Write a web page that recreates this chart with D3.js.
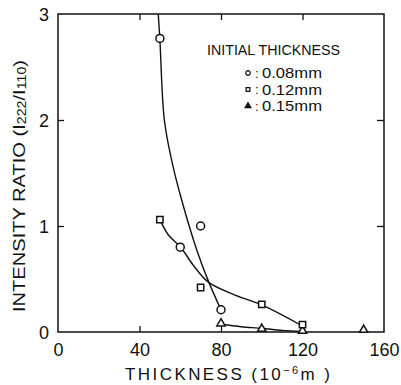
<!DOCTYPE html>
<html>
<head>
<meta charset="utf-8">
<script src="https://cdn.jsdelivr.net/npm/d3@7"></script>
<style>
  html, body { margin: 0; padding: 0; background: #fff; }
  svg { display: block; }
  text { font-family: "Liberation Sans", "DejaVu Sans", sans-serif; fill: #111; }
</style>
</head>
<body>
<svg id="chart" width="401" height="385"></svg>
<script>
// ---------- data ----------
const xTicks = [0, 40, 80, 120, 160];
const yTicks = [0, 1, 2, 3];

// measured points
const circleX = [50, 60, 70, 80];
const circleY = [2.77, 0.80, 1.00, 0.21];
const squareX = [50, 70, 100, 120];
const squareY = [1.06, 0.42, 0.26, 0.07];
const triangleX = [80, 100, 120, 150];
const triangleY = [0.08, 0.03, 0.01, 0.02];

// hand-drawn fitted curves
const curve08X = [49.2, 50, 52.2, 56, 60.7, 68.1, 73.8, 80];
const curve08Y = [3.0, 2.76, 2.0, 1.6, 1.245, 0.774, 0.48, 0.21];
const curve12X = [50, 54.2, 60.2, 66.4, 73.8, 86, 100, 119];
const curve12Y = [1.06, 0.915, 0.80, 0.63, 0.47, 0.355, 0.255, 0.066];
const curve15X = [80, 90, 100, 110, 120];
const curve15Y = [0.075, 0.05, 0.035, 0.015, 0.005];

const legendTitle = "INITIAL THICKNESS";
const legendLabels = ["0.08mm", "0.12mm", "0.15mm"];
const legendShapes = ["circle", "square", "triangle"];

// ---------- layout ----------
const svg = d3.select("#chart");
const L = 58, R = 384, T = 14, B = 332;
const x = d3.scaleLinear().domain([0, 160]).range([L, R]);
const y = d3.scaleLinear().domain([0, 3]).range([B, T]);
const ink = "#111";

// frame
svg.append("rect").attr("x", L).attr("y", T).attr("width", R - L).attr("height", B - T)
  .attr("fill", "none").attr("stroke", ink).attr("stroke-width", 1.5);

// axes with inward ticks (no domain lines)
const xAxB = d3.axisBottom(x).tickValues(xTicks).tickSize(-6).tickPadding(11).tickFormat(d3.format("d"));
const gxb = svg.append("g").attr("transform", `translate(0,${B})`).call(xAxB);
const xAxT = d3.axisTop(x).tickValues(xTicks.slice(1, -1)).tickSize(-6).tickFormat("");
const gxt = svg.append("g").attr("transform", `translate(0,${T})`).call(xAxT);
const yAxL = d3.axisLeft(y).tickValues(yTicks).tickSize(-6).tickPadding(9).tickFormat(d3.format("d"));
const gyl = svg.append("g").attr("transform", `translate(${L},0)`).call(yAxL);
const yAxR = d3.axisRight(y).tickValues(yTicks.slice(1, -1)).tickSize(-7).tickFormat("");
const gyr = svg.append("g").attr("transform", `translate(${R},0)`).call(yAxR);
[gxb, gxt, gyl, gyr].forEach(g => {
  g.select(".domain").remove();
  g.selectAll(".tick line").attr("stroke", ink).attr("stroke-width", 1.3);
  g.selectAll(".tick text").attr("fill", ink)
    .style("font-family", "'Liberation Sans', sans-serif").style("font-size", "18px");
});
// hide tick lines at the frame corners
gxb.selectAll(".tick").filter(d => d === 0 || d === 160).select("line").remove();
gyl.selectAll(".tick").filter(d => d === 0 || d === 3).select("line").remove();
gyl.selectAll(".tick text").attr("dy", "0.36em");

// curves
const line = d3.line().x(d => x(d[0])).y(d => y(d[1])).curve(d3.curveCatmullRom.alpha(0.5));
const curves = [
  d3.zip(curve08X, curve08Y),
  d3.zip(curve12X, curve12Y),
  d3.zip(curve15X, curve15Y)
];
svg.append("g").selectAll("path").data(curves).join("path")
  .attr("d", line).attr("fill", "none").attr("stroke", ink).attr("stroke-width", 1.4);

// markers
const sym = {
  circle: d3.symbol().type(d3.symbolCircle).size(50),
  square: d3.symbol().type(d3.symbolSquare).size(40),
  triangle: d3.symbol().type(d3.symbolTriangle).size(30)
};
function drawMarkers(xs, ys, shape) {
  svg.append("g").selectAll("path").data(d3.zip(xs, ys)).join("path")
    .attr("transform", d => `translate(${x(d[0])},${y(d[1])})`)
    .attr("d", sym[shape]())
    .attr("fill", "#fff").attr("stroke", ink).attr("stroke-width", 1.5);
}
drawMarkers(triangleX, triangleY, "triangle");
drawMarkers(squareX, squareY, "square");
drawMarkers(circleX, circleY, "circle");

// legend
svg.append("text").attr("x", 207).attr("y", 54.5)
  .attr("textLength", 133).attr("lengthAdjust", "spacingAndGlyphs")
  .style("font-size", "14px").text(legendTitle);
const smallSym = {
  circle: d3.symbol().type(d3.symbolCircle).size(16),
  square: d3.symbol().type(d3.symbolSquare).size(14),
  triangle: d3.symbol().type(d3.symbolTriangle).size(14)
};
legendLabels.forEach((lab, i) => {
  const cy = 73 + i * 16.5;
  svg.append("path").attr("transform", `translate(248,${cy})`)
    .attr("d", smallSym[legendShapes[i]]())
    .attr("fill", legendShapes[i] === "triangle" ? ink : "#fff")
    .attr("stroke", ink).attr("stroke-width", 1.3);
  svg.append("text").attr("x", 255).attr("y", cy + 4.5)
    .style("font-size", "13px").text(":");
  svg.append("text").attr("x", 262).attr("y", cy + 5)
    .attr("textLength", 60).attr("lengthAdjust", "spacingAndGlyphs")
    .style("font-size", "14px").text(lab);
});

// axis titles
const xl = svg.append("text").attr("x", 125).attr("y", 380)
  .attr("textLength", 205).attr("lengthAdjust", "spacing")
  .style("font-size", "17px");
xl.append("tspan").text("THICKNESS   (10");
xl.append("tspan").attr("dy", -6).style("font-size", "11px").text("−6");
xl.append("tspan").attr("dy", 6).text("m )");

const yl = svg.append("text")
  .attr("transform", "translate(25,186) rotate(-90)")
  .attr("text-anchor", "middle")
  .attr("textLength", 252).attr("lengthAdjust", "spacingAndGlyphs")
  .style("font-size", "17px");
yl.append("tspan").text("INTENSITY RATIO  (I");
yl.append("tspan").attr("dy", 1).style("font-size", "12px").text("222");
yl.append("tspan").attr("dy", -1).text("/I");
yl.append("tspan").attr("dy", 1).style("font-size", "12px").text("110");
yl.append("tspan").attr("dy", -1).text(")");
</script>
</body>
</html>
